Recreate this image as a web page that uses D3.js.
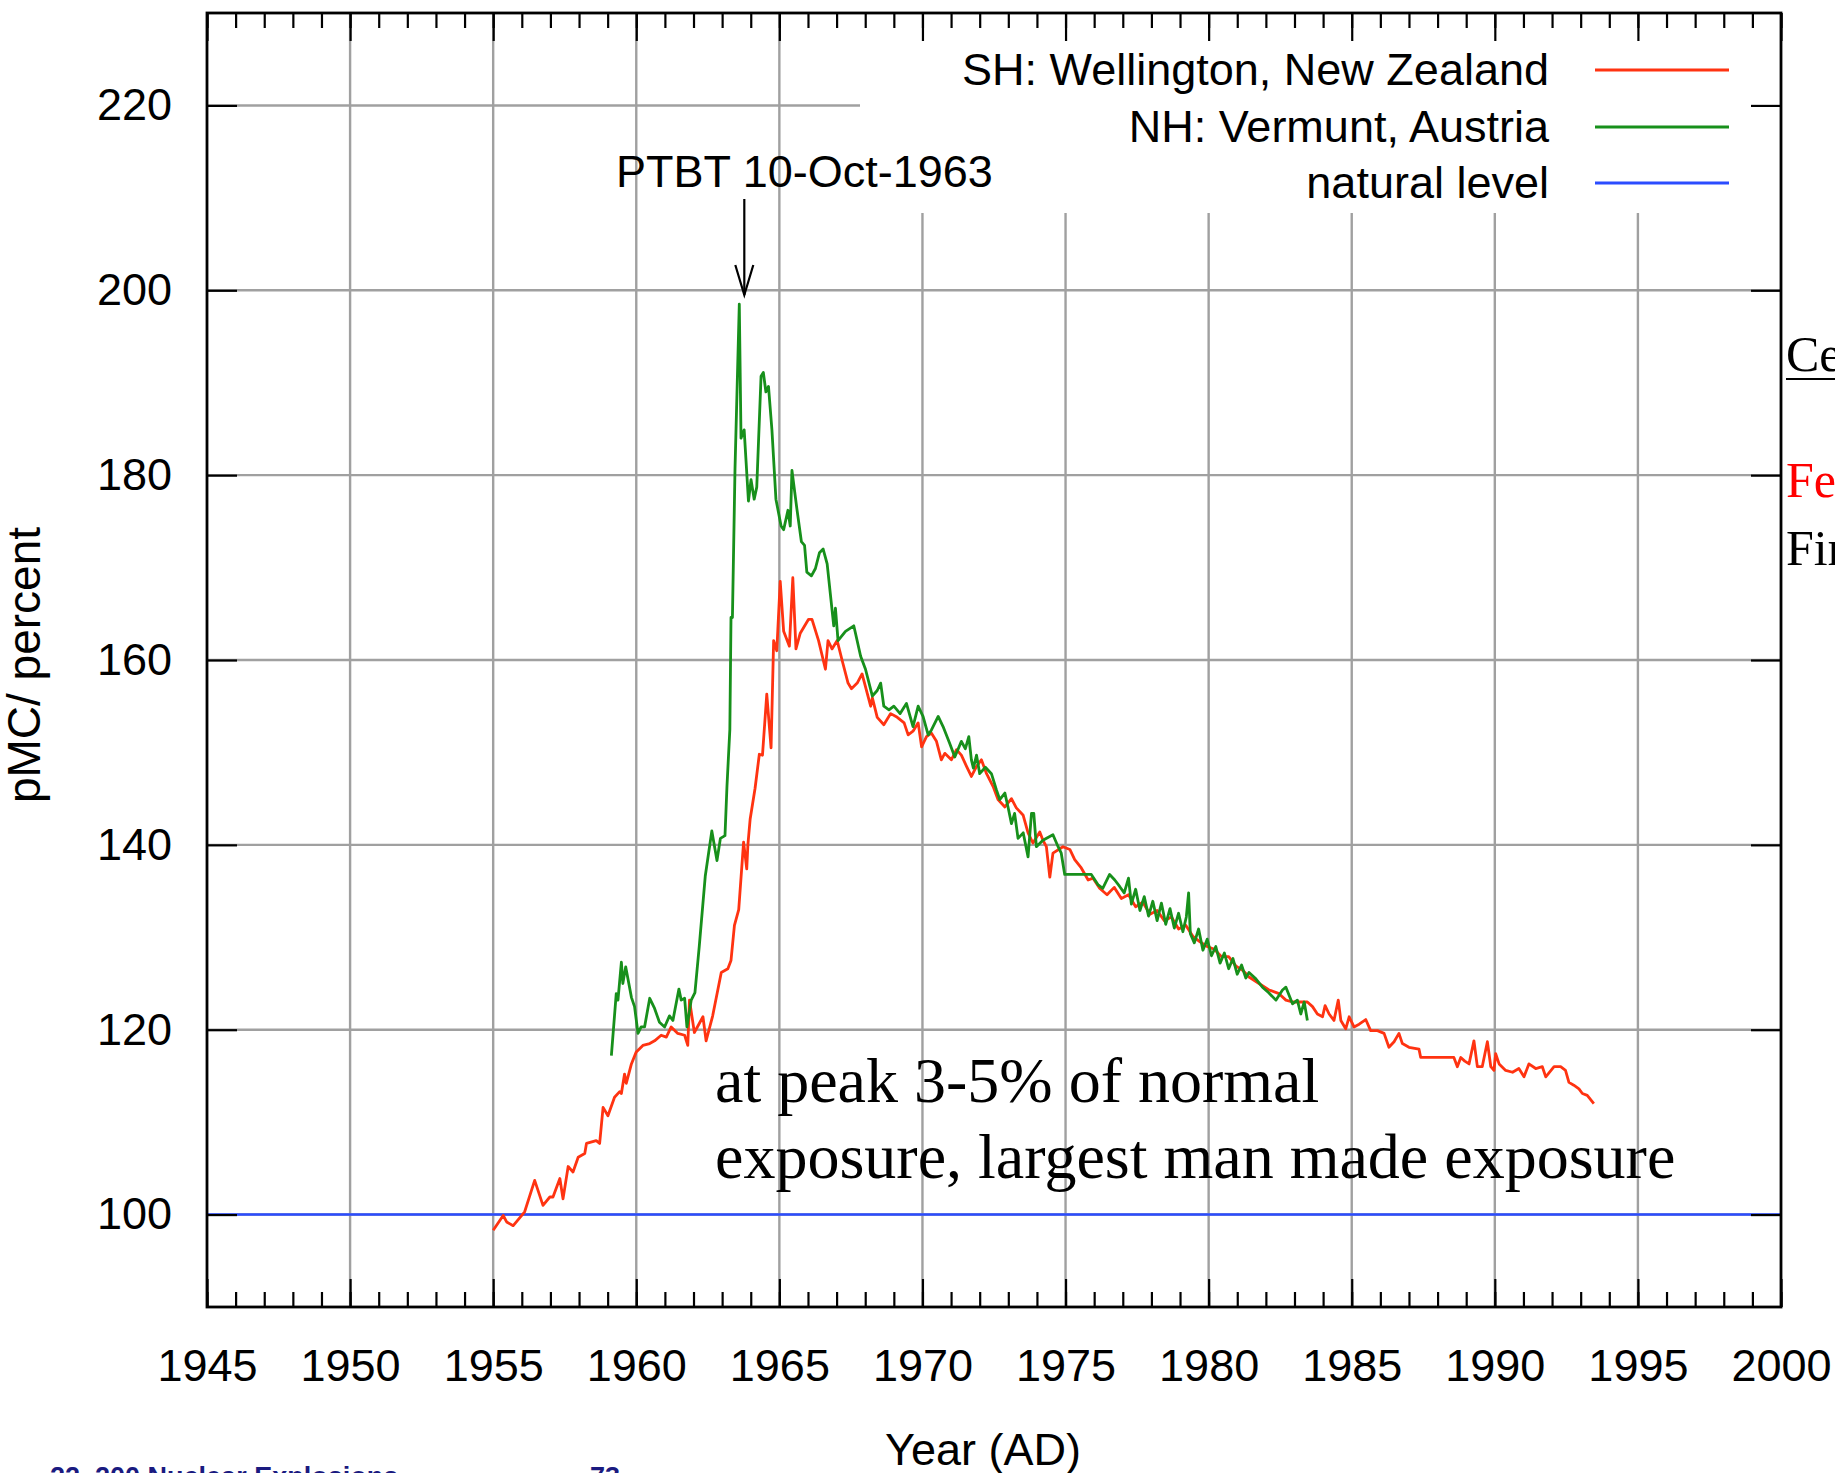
<!DOCTYPE html>
<html>
<head>
<meta charset="utf-8">
<script src="https://cdn.jsdelivr.net/npm/d3@7"></script>
<style>
  body { margin: 0; background: #fff; overflow: hidden; }
  svg { display: block; }
</style>
</head>
<body>
<div id="chart"></div>
<script>
// SH: Wellington, New Zealand
var shYear = [1955.0,1955.35,1955.47,1955.7,1956.1,1956.45,1956.74,1956.98,1957.09,1957.33,1957.44,1957.62,1957.79,1957.97,
  1958.2,1958.26,1958.6,1958.72,1958.84,1959.01,1959.24,1959.42,1959.48,1959.59,1959.65,1959.83,1960.0,1960.23,1960.47,
  1960.64,1960.87,1961.05,1961.22,1961.45,1961.69,1961.8,1961.86,1962.03,1962.33,1962.44,1962.67,1962.97,1963.2,1963.31,
  1963.43,1963.58,1963.75,1963.86,1963.9,1963.98,1964.15,1964.3,1964.41,1964.56,1964.71,1964.8,1964.91,1965.03,1965.15,
  1965.35,1965.47,1965.58,1965.73,1966.02,1966.14,1966.37,1966.61,1966.7,1966.84,1967.02,1967.19,1967.4,1967.52,1967.72,
  1967.89,1968.19,1968.25,1968.42,1968.65,1968.89,1969.12,1969.36,1969.5,1969.67,1969.85,1969.97,1970.14,1970.31,1970.49,
  1970.66,1970.78,1971.01,1971.19,1971.36,1971.54,1971.71,1971.89,1972.06,1972.24,1972.47,1972.64,1972.88,1973.11,1973.28,
  1973.52,1973.69,1973.86,1974.1,1974.21,1974.33,1974.45,1974.56,1974.91,1975.15,1975.32,1975.55,1975.79,1975.96,1976.19,
  1976.45,1976.7,1976.95,1977.2,1977.45,1977.7,1977.95,1978.2,1978.45,1978.7,1978.95,1979.2,1979.45,1979.7,1979.95,1980.2,
  1980.45,1980.7,1980.95,1981.2,1981.41,1981.76,1982.11,1982.46,1982.7,1982.93,1983.45,1983.63,1983.8,1983.98,1984.07,
  1984.21,1984.38,1984.53,1984.62,1984.79,1984.91,1985.08,1985.26,1985.49,1985.66,1985.9,1986.13,1986.3,1986.48,1986.65,
  1986.77,1987.0,1987.35,1987.41,1987.93,1988.57,1988.69,1988.81,1988.95,1989.1,1989.27,1989.39,1989.56,1989.74,1989.86,
  1989.97,1990.03,1990.15,1990.38,1990.62,1990.84,1991.02,1991.19,1991.43,1991.66,1991.78,1992.07,1992.3,1992.47,1992.59,
  1992.76,1992.94,1993.06,1993.23,1993.46];
var shPMC = [98.3,99.9,99.2,98.8,100.3,103.7,101.0,101.9,101.9,103.9,101.7,105.2,104.6,106.2,
  106.6,107.7,108.0,107.7,111.6,110.7,112.7,113.3,113.1,115.2,114.2,116.3,117.6,118.3,118.5,
  118.8,119.4,119.2,120.3,119.6,119.4,118.3,123.2,119.7,121.4,118.8,121.5,126.2,126.6,127.5,
  131.3,133.0,140.3,137.4,140.0,142.8,146.1,149.8,149.7,156.3,150.5,162.1,161.0,168.5,163.1,
  161.5,168.9,161.2,162.9,164.4,164.4,162.1,159.0,162.1,161.2,162.1,160.0,157.5,156.9,157.5,
  158.5,155.0,155.9,153.8,153.0,154.2,153.8,153.2,151.9,152.3,153.2,150.6,151.7,152.1,151.2,
  149.2,149.9,149.2,150.3,149.7,148.5,147.4,148.5,149.2,147.7,146.3,144.9,144.1,145.0,144.0,
  143.2,141.3,140.2,141.4,140.5,139.8,136.5,139.1,139.8,139.5,138.4,137.5,136.2,136.4,135.3,
  134.6,135.4,134.2,134.6,133.3,133.8,132.5,132.9,131.8,132.2,130.9,131.3,130.1,129.5,129.0,128.7,
  127.9,127.9,126.9,126.4,125.7,125.0,124.3,123.9,123.2,123.0,123.0,122.5,121.7,121.4,122.6,
  121.7,121.0,123.2,121.0,120.1,121.4,120.3,120.6,121.1,119.9,119.9,119.6,118.1,118.7,119.6,
  118.5,118.1,117.9,117.0,117.0,117.0,116.0,117.0,116.6,116.3,118.8,116.0,116.0,118.7,116.0,
  115.6,117.4,116.3,115.6,115.4,115.8,114.9,116.3,115.8,116.0,114.9,116.0,116.0,115.6,114.3,
  114.0,113.6,113.1,112.9,112.0];

// NH: Vermunt, Austria
var nhYear = [1959.13,1959.3,1959.36,1959.48,1959.53,1959.63,1959.83,1959.94,1960.06,1960.17,1960.29,1960.47,1960.64,
  1960.81,1960.99,1961.16,1961.28,1961.49,1961.57,1961.69,1961.77,1961.92,1962.05,1962.2,1962.41,1962.64,1962.82,1962.94,
  1963.1,1963.17,1963.27,1963.31,1963.36,1963.45,1963.6,1963.66,1963.77,1963.92,1964.01,1964.12,1964.21,1964.36,1964.44,
  1964.53,1964.62,1964.74,1964.88,1965.06,1965.15,1965.3,1965.38,1965.44,1965.61,1965.77,1965.88,1965.96,1966.12,1966.26,
  1966.4,1966.53,1966.67,1966.9,1966.96,1967.05,1967.31,1967.6,1967.66,1967.84,1968.01,1968.25,1968.42,1968.54,1968.65,
  1968.83,1969.0,1969.22,1969.44,1969.67,1969.85,1970.02,1970.2,1970.31,1970.55,1970.72,1970.95,1971.13,1971.36,1971.5,
  1971.62,1971.71,1971.78,1971.89,1972.0,1972.2,1972.41,1972.58,1972.7,1972.88,1972.99,1973.11,1973.22,1973.34,1973.52,
  1973.69,1973.81,1973.89,1973.98,1974.21,1974.56,1974.74,1974.85,1974.97,1975.5,1975.9,1976.13,1976.3,1976.54,1976.72,
  1976.89,1977.05,1977.2,1977.3,1977.45,1977.6,1977.75,1977.9,1978.05,1978.2,1978.35,1978.5,1978.65,1978.8,1978.95,1979.1,
  1979.22,1979.3,1979.36,1979.5,1979.65,1979.8,1979.95,1980.1,1980.25,1980.4,1980.55,1980.7,1980.85,1981.0,1981.15,1981.3,
  1981.41,1981.65,1981.88,1982.1,1982.35,1982.58,1982.7,1982.93,1983.1,1983.22,1983.34,1983.45];
var nhPMC = [117.2,123.9,123.2,127.3,125.0,126.8,123.5,122.5,119.6,120.3,120.3,123.4,122.3,
  120.8,120.3,121.5,121.0,124.4,123.2,123.4,120.3,123.2,124.0,129.0,136.6,141.5,138.3,140.7,
  141.0,146.4,152.5,164.6,164.6,180.7,198.5,184.0,184.9,177.2,179.5,177.4,178.7,190.7,191.1,
  189.0,189.6,184.9,177.4,174.5,174.1,176.2,174.5,180.5,176.4,172.8,172.4,169.5,169.1,169.9,
  171.6,172.0,170.4,163.7,165.6,162.1,163.1,163.7,162.9,160.4,159.0,156.1,156.7,157.5,155.0,
  154.6,155.0,154.2,155.3,152.8,155.0,153.9,151.9,152.4,153.9,152.8,151.0,149.5,151.2,150.4,
  151.7,149.2,148.3,149.7,147.7,148.4,147.7,146.0,144.9,145.6,144.1,142.3,143.4,140.7,141.3,
  138.7,143.4,143.4,139.8,140.5,141.1,139.8,139.1,136.8,136.8,136.8,135.7,135.3,136.8,136.2,
  135.5,134.8,136.4,133.6,135.2,132.9,134.4,132.3,133.9,131.8,133.7,131.4,133.1,131.0,132.6,130.6,
  132.2,134.8,130.4,129.4,130.9,128.6,129.8,128.0,129.0,127.2,128.3,126.6,127.7,126.0,127.0,125.6,
  126.2,125.5,124.6,124.0,123.2,124.3,124.6,122.8,123.2,121.7,123.0,121.0];

var naturalLevel = 100;
var seriesNames = ["SH: Wellington, New Zealand", "NH: Vermunt, Austria", "natural level"];
var seriesColors = ["#ff3311", "#17901b", "#2b4cff"];
var xMajor = d3.range(1945, 2001, 5);
var xMinor = d3.range(1945, 2001, 1);
var yMajor = d3.range(100, 221, 20);
var ptbtYear = 1963.775;

var W = 1835, H = 1473;
var plotL = 207, plotR = 1781, plotT = 13, plotB = 1307;

var svg = d3.select("#chart").append("svg")
  .attr("width", W).attr("height", H)
  .style("font-family", "'Liberation Sans', Arial, sans-serif");

svg.append("rect").attr("width", W).attr("height", H).attr("fill", "#fff");

var x = d3.scaleLinear().domain([1945, 2000]).range([plotL, plotR]);
var y = d3.scaleLinear().domain([90, 230]).range([plotB, plotT]);

// grid
var grid = svg.append("g").attr("stroke", "#a0a0a0").attr("stroke-width", 2.4);
grid.selectAll(".gx").data(xMajor.slice(1, -1)).enter().append("line")
  .attr("x1", d => x(d)).attr("x2", d => x(d))
  .attr("y1", plotT).attr("y2", plotB);
grid.selectAll(".gy").data(yMajor).enter().append("line")
  .attr("x1", plotL).attr("x2", plotR)
  .attr("y1", d => y(d)).attr("y2", d => y(d));

// opaque key box
svg.append("rect").attr("x", 860).attr("y", plotT).attr("width", plotR - 860).attr("height", 213 - plotT)
  .attr("fill", "#fff");

// natural level
svg.append("line")
  .attr("x1", x(1945)).attr("x2", x(2000))
  .attr("y1", y(naturalLevel)).attr("y2", y(naturalLevel))
  .attr("stroke", seriesColors[2]).attr("stroke-width", 2.5);

var line = d3.line().x(d => x(d[0])).y(d => y(d[1]));
var sh = shYear.map((d, i) => [d, shPMC[i]]);
var nh = nhYear.map((d, i) => [d, nhPMC[i]]);

svg.append("path").datum(sh).attr("d", line)
  .attr("fill", "none").attr("stroke", seriesColors[0]).attr("stroke-width", 2.8)
  .attr("stroke-linejoin", "round");
svg.append("path").datum(nh).attr("d", line)
  .attr("fill", "none").attr("stroke", seriesColors[1]).attr("stroke-width", 2.8)
  .attr("stroke-linejoin", "round");

// axes (ticks point inward)
function styleAxis(g) {
  g.select(".domain").remove();
  g.selectAll(".tick line").attr("stroke", "#000").attr("stroke-width", 2.2);
  g.selectAll("text").attr("fill", "#000").style("font-size", "45px")
    .style("font-family", "'Liberation Sans', Arial, sans-serif");
}
svg.append("g").attr("transform", "translate(0," + plotB + ")")
  .call(d3.axisBottom(x).tickValues(xMinor).tickSize(-15).tickFormat(""))
  .call(styleAxis);
svg.append("g").attr("transform", "translate(0," + plotB + ")")
  .call(d3.axisBottom(x).tickValues(xMajor).tickSize(-28).tickPadding(42).tickFormat(d3.format("d")))
  .call(styleAxis);
svg.append("g").attr("transform", "translate(0," + plotT + ")")
  .call(d3.axisTop(x).tickValues(xMinor).tickSize(-15).tickFormat(""))
  .call(styleAxis);
svg.append("g").attr("transform", "translate(0," + plotT + ")")
  .call(d3.axisTop(x).tickValues(xMajor).tickSize(-28).tickFormat(""))
  .call(styleAxis);
svg.append("g").attr("transform", "translate(" + plotL + ",0)")
  .call(d3.axisLeft(y).tickValues(yMajor).tickSize(-30).tickPadding(35).tickFormat(d3.format("d")))
  .call(styleAxis);
svg.append("g").attr("transform", "translate(" + plotR + ",0)")
  .call(d3.axisRight(y).tickValues(yMajor).tickSize(-30).tickFormat(""))
  .call(styleAxis);

svg.append("rect").attr("x", plotL).attr("y", plotT)
  .attr("width", plotR - plotL).attr("height", plotB - plotT)
  .attr("fill", "none").attr("stroke", "#000").attr("stroke-width", 2.8);

// axis titles
svg.append("text").attr("x", 983).attr("y", 1465).attr("text-anchor", "middle")
  .style("font-size", "45px").text("Year (AD)");
svg.append("text").attr("transform", "translate(40,665) rotate(-90)").attr("text-anchor", "middle")
  .style("font-size", "46px").text("pMC/ percent");

// legend
var legY = [70, 127, 183];
var leg = svg.append("g");
seriesNames.forEach(function(name, i) {
  leg.append("text").attr("x", 1549).attr("y", legY[i] + 15).attr("text-anchor", "end")
    .style("font-size", "45px").text(name);
  leg.append("line").attr("x1", 1595).attr("x2", 1729)
    .attr("y1", legY[i]).attr("y2", legY[i])
    .attr("stroke", seriesColors[i]).attr("stroke-width", 2.8);
});

// PTBT annotation
svg.append("text").attr("x", 616).attr("y", 187).style("font-size", "45px").text("PTBT 10-Oct-1963");
var ax = x(ptbtYear);
svg.append("line").attr("x1", ax).attr("x2", ax).attr("y1", 199).attr("y2", 295)
  .attr("stroke", "#000").attr("stroke-width", 2.2);
svg.append("path").attr("d", "M" + (ax - 9) + ",265L" + ax + ",295L" + (ax + 9) + ",265")
  .attr("fill", "none").attr("stroke", "#000").attr("stroke-width", 2.2);

// slide overlay text
var serif = "'Liberation Serif', 'Times New Roman', serif";
var note = svg.append("text").style("font-family", serif).style("font-size", "64px").attr("fill", "#000");
note.append("tspan").attr("x", 715).attr("y", 1102).text("at peak 3-5% of normal");
note.append("tspan").attr("x", 715).attr("y", 1178).text("exposure, largest man made exposure");

svg.append("text").attr("x", 1786).attr("y", 371).style("font-family", serif).style("font-size", "50px")
  .text("Cell");
svg.append("line").attr("x1", 1786).attr("x2", W).attr("y1", 379).attr("y2", 379)
  .attr("stroke", "#000").attr("stroke-width", 2);
svg.append("text").attr("x", 1786).attr("y", 497).style("font-family", serif).style("font-size", "50px")
  .attr("fill", "#ff0000").text("Fe");
svg.append("text").attr("x", 1786).attr("y", 565).style("font-family", serif).style("font-size", "50px")
  .text("Fir");

svg.append("text").attr("x", 50).attr("y", 1486).style("font-size", "27px").style("font-weight", "bold")
  .attr("fill", "#1a1a80").text("22. 200 Nuclear Explosions");
svg.append("text").attr("x", 590).attr("y", 1486).style("font-size", "27px").style("font-weight", "bold")
  .attr("fill", "#1a1a80").text("73");
</script>
</body>
</html>
